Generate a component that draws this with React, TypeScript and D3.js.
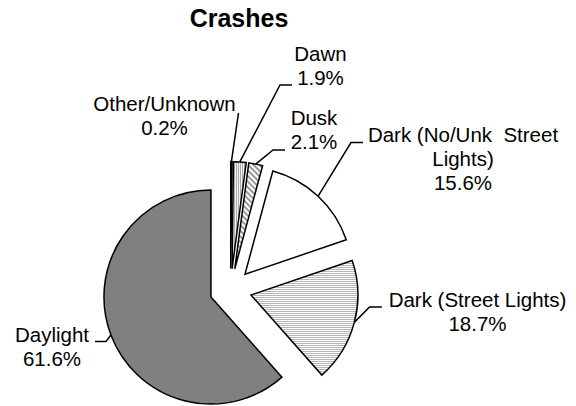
import React from "react";
import * as d3 from "d3";

const categories = [
  "Other/Unknown",
  "Dawn",
  "Dusk",
  "Dark (No/Unk Street Lights)",
  "Dark (Street Lights)",
  "Daylight",
];
const values = [0.2, 1.9, 2.1, 15.6, 18.7, 61.6];
const title = "Crashes";

// layout (not data)
const labelLines = [
  ["Other/Unknown"],
  ["Dawn"],
  ["Dusk"],
  ["Dark (No/Unk  Street", "Lights)"],
  ["Dark (Street Lights)"],
  ["Daylight"],
];
const labelPos: [number, number][] = [
  [164.5, 111],
  [320.5, 61],
  [314, 125],
  [463, 142],
  [477.5, 307],
  [52, 342],
];
const leaderElbow: [number, number][][] = [
  [[238.5, 113]],
  [[292, 85], [280, 85]],
  [[285, 150], [273, 150]],
  [[363, 142.5], [351, 142.5]],
  [[382, 307], [369.5, 307]],
  [[95, 341.5], [106, 341.5]],
];

const W = 576, H = 406;
const cx = 230.6, cy = 289.6, R = 107, EXPLODE = 21;
const fills = ["#000", "url(#vstripe)", "url(#dstripe)", "#fff", "url(#hstripe)", "#808080"];

export default function App() {
  const pie = d3.pie<number>().sort(null).value((d) => d);
  const arcs = pie(values);
  const arcGen = d3.arc<d3.PieArcDatum<number>>().innerRadius(0).outerRadius(R);
  const font = "'Liberation Sans', Arial, sans-serif";

  return (
    <svg width={W} height={H} style={{ position: "absolute", left: 0, top: 0, background: "#fff" }}>
      <defs>
        <pattern id="hstripe" width={4} height={2} patternUnits="userSpaceOnUse">
          <rect width={4} height={2} fill="#fff" />
          <rect width={4} height={1} fill="#b4b4b4" />
        </pattern>
        <pattern id="vstripe" width={2} height={4} patternUnits="userSpaceOnUse">
          <rect width={2} height={4} fill="#fff" />
          <rect width={1} height={4} fill="#a0a0a0" />
        </pattern>
        <pattern id="dstripe" width={4} height={4} patternUnits="userSpaceOnUse" patternTransform="rotate(45)">
          <rect width={4} height={4} fill="#fff" />
          <rect width={4} height={2} fill="#999" />
        </pattern>
      </defs>
      <text x={239} y={27} textAnchor="middle" fontFamily={font} fontWeight="bold" fontSize={25} fill="#000">
        {title}
      </text>
      {arcs.map((a, i) => {
        const mid = (a.startAngle + a.endAngle) / 2;
        const ox = cx + EXPLODE * Math.sin(mid);
        const oy = cy - EXPLODE * Math.cos(mid);
        return (
          <path
            key={categories[i]}
            d={arcGen(a) || ""}
            transform={`translate(${ox},${oy})`}
            fill={fills[i]}
            stroke="#000"
            strokeWidth={1.5}
            strokeLinejoin="miter"
          />
        );
      })}
      {arcs.map((a, i) => {
        const mid = (a.startAngle + a.endAngle) / 2;
        const ex = cx + (EXPLODE + R) * Math.sin(mid);
        const ey = cy - (EXPLODE + R) * Math.cos(mid);
        const pts = [...leaderElbow[i], [ex, ey]];
        return (
          <path
            key={"l" + i}
            d={d3.line()(pts as [number, number][]) || ""}
            fill="none"
            stroke="#000"
            strokeWidth={1.5}
          />
        );
      })}
      {arcs.map((a, i) => {
        const lines = [...labelLines[i], `${values[i].toFixed(1)}%`];
        const [lx, ly] = labelPos[i];
        return (
          <text
            key={"t" + i}
            x={lx}
            y={ly}
            textAnchor="middle"
            fontFamily={font}
            fontSize={20.5}
            fill="#000"
            style={{ whiteSpace: "pre" }}
          >
            {lines.map((s, j) => (
              <tspan key={j} x={lx} y={ly + j * 24}>
                {s}
              </tspan>
            ))}
          </text>
        );
      })}
    </svg>
  );
}
